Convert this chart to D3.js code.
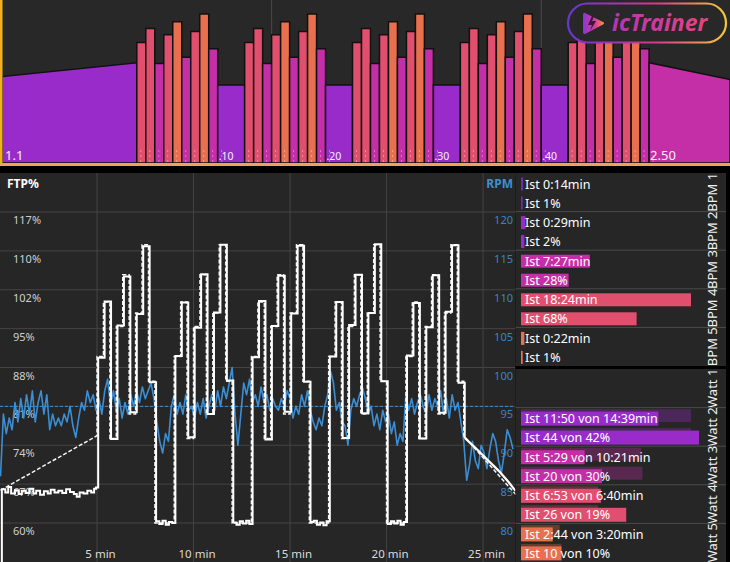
<!DOCTYPE html>
<html><head><meta charset="utf-8">
<script src="https://cdn.jsdelivr.net/npm/d3@7"></script>
<style>
html,body{margin:0;padding:0;background:#000;}
svg{display:block;}
text{font-family:"Noto Sans",sans-serif;}
</style></head><body>
<svg id="c" width="730" height="562"></svg>
<script>
// ---------------- DATA ----------------
// workout structure (minutes, % FTP)
const warmupSeg = {t0: 0, t1: 5, p0: 66, p1: 76, zone: 2};
const cooldownSeg = {t0: 24, t1: 27, p0: 76, p1: 64, zone: 3};
const blockStarts = [5, 9, 13, 17, 21];
const intervalLen = 1 / 3;
const intervalTargets = [90.5, 100.5, 75.5, 96, 105.5, 80, 98.5, 111, 86];
const intervalZones = [4, 4, 3, 4, 5, 3, 4, 5, 3];
const recoveryStarts = [8, 12, 16, 20];
const recoveryLen = 1;
const recoveryTarget = 60;
const profileLabels = ["1.1", ".10", ".20", ".30", ".40", "2.50"];
const profileLabelTimes = [0, 8, 12, 16, 20, 24];

// actual power (% FTP)
const warmupActual = [[0,50],[0.07,66.2],[0.25,65.6],[0.4,66.6],[0.55,65.4],[0.75,66.0],[0.95,65.3],[1.1,65.9],[1.3,65.5],[1.5,66.3],[1.7,65.4],[1.85,65.9],[2.05,65.2],[2.25,65.8],[2.45,65.4],[2.6,66.1],[2.8,65.6],[3.0,65.9],[3.2,65.5],[3.4,66.2],[3.6,65.7],[3.8,65.3],[3.95,64.8],[4.1,65.6],[4.3,65.4],[4.5,65.9],[4.7,65.6],[4.85,66.3],[4.95,66.5]];
const blockActual = [
  [90.3, 100.6, 75.4, 96.2, 105.2, 80.3, 98.3, 110.7, 85.8],
  [90.6, 100.4, 75.7, 95.8, 105.6, 80.0, 98.6, 111.0, 86.1],
  [90.4, 100.7, 75.3, 96.1, 105.3, 80.4, 98.4, 110.8, 85.9],
  [90.5, 100.5, 75.6, 96.3, 105.5, 80.1, 98.5, 111.1, 86.0],
  [90.7, 100.3, 75.5, 95.9, 105.4, 80.2, 98.7, 110.9, 85.7]
];
const recoveryStep = 1 / 6;
const recoveryActual = [
  [60.3, 59.8, 60.4, 59.7, 60.2, 60.0],
  [60.1, 59.7, 60.3, 59.9, 60.4, 59.8],
  [60.2, 60.4, 59.7, 60.1, 59.6, 60.3],
  [59.8, 60.3, 59.9, 60.4, 59.7, 60.2]
];
const actualLag = 0.06;
const cooldownActual = [[24.05,75.6],[24.6,73.8],[25.2,71.7],[25.8,69.6],[26.3,67.6],[26.68,65.9]];

// cadence (RPM), one sample every 0.15 min
const rpmStep = 0.15;
const rpm = [86,94,91.5,93.5,92,95.5,93,96,93.5,96.5, 94,97,93,95.5,97,94,96.5,92,94,92.5,
  93.5,92.5,94,93,95,92.5,91,93.5,95.5,94.5, 97,95.5,96.5,94.5,96,94,97,98.5,95,97,
  94.5,96,93.5,95.5,94,96.5,95,97,95.5,97.5, 96,97,98,96,93,90.5,89,91.5,90.5,95,
  96.5,94,95.5,94,96.5,94.5,95,93.5,95.5,94, 96,93.5,95,96.5,94.5,97,95,97.5,96,98,
  100,94,90,94,98,96.5,98.5,95.5,96.5,95, 97.5,95.5,96.5,94.5,96,95,94.5,96,95,97,
  96,93.5,95,94,96.5,95,97,94.5,93,92, 93.5,92.5,95,96.5,99.5,98,94.5,95.5,93,92.5,
  90,94.5,96,95,96.5,97.5,96,94,95,92.5, 94,92,94.5,93,94,91.5,93,90,91.5,90.5,
  96.5,94.5,96,94,95.5,96.5,95,94,96.5,94.5, 96,95,97,94,96,93.5,96.5,94.5,95.5,93,
  90.5,85.5,87.5,90.5,88,87,90,89,87,89.5, 91.5,90.5,88,86.5,89,92,91,89.5];
const rpmTarget = 95;

// axes
const xTicks = [5, 10, 15, 20, 25];
const rpmTicks = [80, 85, 90, 95, 100, 105, 110, 115, 120];
const ftpTickLabels = ["60%", "67%", "74%", "81%", "88%", "95%", "102%", "110%", "117%"];

// zone summary
const bpmZones = ["BPM 1", "BPM 2", "BPM 3", "BPM 4", "BPM 5"];
const bpmTimes = ["0:14", "0:29", "7:27", "18:24", "0:22"];
const bpmPct = [1, 2, 28, 68, 1];
const wattZones = ["Watt 1", "Watt 2", "Watt 3", "Watt 4", "Watt 5"];
const wattActualTime = [null, "11:50", "5:29", "6:53", "2:44"];
const wattTargetTime = [null, "14:39", "10:21", "6:40", "3:20"];
const wattActualPct = [null, 44, 20, 26, 10];
const wattTargetPct = [null, 42, 30, 19, 10];

// ---------------- DRAW ----------------
const zoneColor = {1: "#6a2fa6", 2: "#9a2bcb", 3: "#c42fa8", 4: "#e14f6f", 5: "#e9704e"};
const svg = d3.select("#c");
const W = 730, H = 562;
svg.append("rect").attr("width", W).attr("height", H).attr("fill", "#000");

// ---- top workout profile ----
const topG = svg.append("g");
topG.append("rect").attr("x", 0).attr("y", 0).attr("width", W).attr("height", 163).attr("fill", "#282828");
const xTop = d3.scaleLinear().domain([0, 27]).range([2, 730]);
const yTop = d3.scaleLinear().domain([0, 100]).range([168.5, 29.3]);
const base = 163;

const segments = [warmupSeg];
blockStarts.forEach((b, bi) => {
  intervalTargets.forEach((p, k) => segments.push({t0: b + k * intervalLen, t1: b + (k + 1) * intervalLen, p0: p, p1: p, zone: intervalZones[k]}));
  if (bi < recoveryStarts.length) segments.push({t0: recoveryStarts[bi], t1: recoveryStarts[bi] + recoveryLen, p0: recoveryTarget, p1: recoveryTarget, zone: 2});
});
segments.push(cooldownSeg);

[10, 20].forEach(t => topG.append("line").attr("x1", xTop(t)).attr("x2", xTop(t)).attr("y1", 0).attr("y2", base)
  .attr("stroke", "#4a4a4a").attr("stroke-width", 1));

topG.selectAll("path.seg").data(segments).join("path").attr("class", "seg")
  .attr("d", d => `M${xTop(d.t0)},${base}L${xTop(d.t0)},${yTop(d.p0)}L${xTop(d.t1)},${yTop(d.p1)}L${xTop(d.t1)},${base}Z`)
  .attr("fill", d => zoneColor[d.zone]).attr("stroke", "#111").attr("stroke-width", 1.5).attr("stroke-linejoin", "miter");

topG.selectAll("line.tk").data(segments.slice(1)).join("line").attr("class", "tk")
  .attr("x1", d => xTop(d.t0) + 4).attr("x2", d => xTop(d.t0) + 4).attr("y1", 150).attr("y2", 162)
  .attr("stroke", "rgba(255,255,255,0.35)").attr("stroke-width", 1).attr("stroke-dasharray", "2,3");

topG.selectAll("text.pl").data(profileLabels).join("text").attr("class", "pl")
  .attr("x", (d, i) => i === 0 ? 5 : xTop(profileLabelTimes[i]) + 1)
  .attr("y", 160).attr("fill", "#f2f2f2")
  .attr("font-size", (d, i) => (i === 0 || i === profileLabels.length - 1) ? 13 : 10.5)
  .text(d => d);

topG.append("rect").attr("x", 0).attr("y", 0).attr("width", 2.5).attr("height", 163).attr("fill", "#f2b21c");
topG.append("rect").attr("x", 0).attr("y", 163).attr("width", W).attr("height", 3).attr("fill", "#f3a15a");

// logo
const defs = svg.append("defs");
const gb = defs.append("linearGradient").attr("id", "gb").attr("x1", "0").attr("x2", "1");
gb.append("stop").attr("offset", "0").attr("stop-color", "#6b34d2");
gb.append("stop").attr("offset", "0.55").attr("stop-color", "#d6378e");
gb.append("stop").attr("offset", "1").attr("stop-color", "#f3c83a");
const gt = defs.append("linearGradient").attr("id", "gt").attr("x1", "0").attr("x2", "1");
gt.append("stop").attr("offset", "0").attr("stop-color", "#b534b8");
gt.append("stop").attr("offset", "1").attr("stop-color", "#e6457c");
const gi = defs.append("linearGradient").attr("id", "gi").attr("x1", "0").attr("x2", "1");
gi.append("stop").attr("offset", "0").attr("stop-color", "#8a36d6");
gi.append("stop").attr("offset", "0.6").attr("stop-color", "#d83c96");
gi.append("stop").attr("offset", "1").attr("stop-color", "#f49a3a");
const logo = svg.append("g");
logo.append("rect").attr("x", 568).attr("y", 3.5).attr("width", 158).attr("height", 39).attr("rx", 19.5)
  .attr("fill", "#282828").attr("stroke", "url(#gb)").attr("stroke-width", 2.2);
logo.append("path").attr("d", "M585,13 Q583,12 583,15 L583,32 Q583,35 586,33.5 L603,24.5 Q605,23 603,22 Z").attr("fill", "url(#gi)");
logo.append("path").attr("d", "M592,16 L588,25 L592,25 L590,31 L596,21 L592,21 L594,16 Z").attr("fill", "#3a1a30");
logo.append("text").attr("x", 612).attr("y", 30.5).attr("font-family", "Lato, 'Noto Sans', sans-serif")
  .attr("font-weight", 700).attr("font-style", "italic").attr("font-size", 23).attr("fill", "url(#gt)").text("icTrainer");

// ---- main chart ----
const mainG = svg.append("g");
const PL = 0, PR = 515.5, PT = 173, PB = 562;
mainG.append("rect").attr("x", PL).attr("y", PT).attr("width", PR - PL).attr("height", PB - PT).attr("fill", "#262626");
const xMain = d3.scaleLinear().domain([0, 26.68]).range([0.5, 515.5]);
const yRpm = d3.scaleLinear().domain([80, 120]).range([523, 212]);
const yFtp = d3.scaleLinear().domain([60, 117]).range([523, 212]);

defs.append("clipPath").attr("id", "clipMain").append("rect").attr("x", PL).attr("y", PT).attr("width", PR - PL).attr("height", PB - PT);

// grid
mainG.append("g").selectAll("line").data(rpmTicks).join("line")
  .attr("x1", PL).attr("x2", PR).attr("y1", d => yRpm(d)).attr("y2", d => yRpm(d))
  .attr("stroke", "#444").attr("stroke-width", 1);
mainG.append("g").selectAll("line").data(xTicks).join("line")
  .attr("x1", d => xMain(d)).attr("x2", d => xMain(d)).attr("y1", PT).attr("y2", PB)
  .attr("stroke", "#444").attr("stroke-width", 1);

// axis labels
const ftpAxis = d3.axisRight(yRpm).tickValues(rpmTicks).tickSize(0).tickFormat((d, i) => ftpTickLabels[i]);
const ftpAx = mainG.append("g").attr("transform", "translate(12,0)").call(ftpAxis);
ftpAx.select(".domain").remove();
ftpAx.selectAll("text").attr("dy", "1.05em").attr("fill", "#cfcfcf").attr("font-size", 11).attr("x", 1);

const rpmAxis = d3.axisLeft(yRpm).tickValues(rpmTicks).tickSize(0);
const rpmAx = mainG.append("g").attr("transform", "translate(514,0)").call(rpmAxis);
rpmAx.select(".domain").remove();
rpmAx.selectAll("text").attr("dy", "1.05em").attr("fill", "#3b84c4").attr("font-size", 11).attr("x", -1);

const xAxis = d3.axisBottom(xMain).tickValues(xTicks).tickSize(0).tickFormat(d => d + " min");
const xAx = mainG.append("g").attr("transform", "translate(3,547)").call(xAxis);
xAx.select(".domain").remove();
xAx.selectAll("text").attr("fill", "#dcdcdc").attr("font-size", 11.5);

mainG.append("text").attr("x", 7).attr("y", 188).attr("font-weight", 700).attr("font-size", 12).attr("fill", "#fff").text("FTP%");
mainG.append("text").attr("x", 513).attr("y", 188).attr("text-anchor", "end").attr("font-weight", 700).attr("font-size", 12).attr("fill", "#3d8fd2").text("RPM");

const plot = mainG.append("g").attr("clip-path", "url(#clipMain)");
// rpm target
plot.append("line").attr("x1", PL).attr("x2", PR).attr("y1", yRpm(rpmTarget)).attr("y2", yRpm(rpmTarget))
  .attr("stroke", "#3a8fd5").attr("stroke-width", 1).attr("stroke-dasharray", "3,2");
// rpm line
plot.append("path").datum(rpm.map((v, i) => [i * rpmStep, v]))
  .attr("d", d3.line().x(d => xMain(d[0])).y(d => yRpm(d[1])))
  .attr("fill", "none").attr("stroke", "#3b8ed4").attr("stroke-width", 1.6).attr("stroke-linejoin", "round");

// target power (dashed)
const targetPts = [];
segments.forEach(s => { targetPts.push([s.t0, s.p0]); targetPts.push([s.t1, s.p1]); });
plot.append("path").datum(targetPts)
  .attr("d", d3.line().x(d => xMain(d[0])).y(d => yFtp(d[1])))
  .attr("fill", "none").attr("stroke", "#f4f4f4").attr("stroke-width", 1.5).attr("stroke-dasharray", "4,2");

// actual power (solid)
const powerPts = warmupActual.slice();
blockStarts.forEach((b, bi) => {
  blockActual[bi].forEach((p, k) => powerPts.push([b + k * intervalLen + actualLag, p]));
  if (bi < recoveryActual.length) recoveryActual[bi].forEach((p, k) => powerPts.push([recoveryStarts[bi] + k * recoveryStep + actualLag, p]));
});
powerPts.push(cooldownActual[0]);
plot.append("path").datum(powerPts)
  .attr("d", d3.line().x(d => xMain(d[0])).y(d => yFtp(d[1])).curve(d3.curveStepAfter))
  .attr("fill", "none").attr("stroke", "#fff").attr("stroke-width", 2);
plot.append("path").datum(cooldownActual)
  .attr("d", d3.line().x(d => xMain(d[0])).y(d => yFtp(d[1])))
  .attr("fill", "none").attr("stroke", "#fff").attr("stroke-width", 2.2);

// ---- right panel ----
const RX = 515.5;
const rightG = svg.append("g");
rightG.append("rect").attr("x", RX).attr("y", 173).attr("width", W - RX).attr("height", H - 173).attr("fill", "#262626");
rightG.append("rect").attr("x", RX).attr("y", 366).attr("width", W - RX).attr("height", 3).attr("fill", "#000");
rightG.append("rect").attr("x", 726).attr("y", 173).attr("width", 4).attr("height", H - 173).attr("fill", "#000");

const secs = s => { const [m, ss] = s.split(":").map(Number); return m * 60 + ss; };
const barX = 521, textX = 525;

// upper: BPM
const yB = d3.scaleBand().domain(bpmZones).range([173, 366]);
const bpmTimeW = d3.scaleLinear().domain([0, d3.max(bpmTimes, secs)]).range([0, 170]);
const bpmPctW = d3.scaleLinear().domain([0, 100]).range([0, 170]);
bpmZones.forEach((z, i) => {
  const top = yB(z), col = zoneColor[i + 1];
  if (i > 0) rightG.append("line").attr("x1", RX).attr("x2", 726).attr("y1", top).attr("y2", top).attr("stroke", "#4b4b4b");
  const r1 = top + 11, r2 = top + 30;
  rightG.append("rect").attr("x", barX).attr("y", r1 - 6.5).attr("height", 13).attr("width", Math.max(1.5, bpmTimeW(secs(bpmTimes[i])))).attr("fill", col);
  rightG.append("rect").attr("x", barX).attr("y", r2 - 6.5).attr("height", 13).attr("width", Math.max(1.5, bpmPctW(bpmPct[i]))).attr("fill", col);
  rightG.append("text").attr("x", textX).attr("y", r1).attr("dy", "0.36em").attr("font-size", 12.5).attr("fill", "#fff").text(`Ist ${bpmTimes[i]}min`);
  rightG.append("text").attr("x", textX).attr("y", r2).attr("dy", "0.36em").attr("font-size", 12.5).attr("fill", "#fff").text(`Ist ${bpmPct[i]}%`);
  rightG.append("text").attr("transform", `translate(717,${top + yB.bandwidth() / 2}) rotate(-90)`).attr("text-anchor", "middle")
    .attr("font-size", 13).attr("fill", "#f0f0f0").text(z);
});

// lower: Watt
const yW = d3.scaleBand().domain(wattZones).range([369, 562]);
const wattTimeW = d3.scaleLinear().domain([0, d3.max(wattTargetTime.filter(d => d), secs)]).range([0, 170]);
const wattPctW = d3.scaleLinear().domain([0, d3.max(wattTargetPct.filter(d => d != null))]).range([0, 170]);
wattZones.forEach((z, i) => {
  const top = yW(z), col = zoneColor[i + 1];
  if (i > 0) rightG.append("line").attr("x1", RX).attr("x2", 726).attr("y1", top).attr("y2", top).attr("stroke", "#4b4b4b");
  rightG.append("text").attr("transform", `translate(717,${top + yW.bandwidth() / 2}) rotate(-90)`).attr("text-anchor", "middle")
    .attr("font-size", 13).attr("fill", "#f0f0f0").text(z);
  if (wattActualTime[i] == null) return;
  const r1 = top + 11, r2 = top + 30;
  rightG.append("rect").attr("x", barX).attr("y", r1 - 9.5).attr("height", 13).attr("width", wattTimeW(secs(wattTargetTime[i]))).attr("fill", col).attr("opacity", 0.32);
  rightG.append("rect").attr("x", barX).attr("y", r2 - 9.5).attr("height", 13).attr("width", wattPctW(wattTargetPct[i])).attr("fill", col).attr("opacity", 0.32);
  rightG.append("rect").attr("x", barX).attr("y", r1 - 7).attr("height", 14).attr("width", wattTimeW(secs(wattActualTime[i]))).attr("fill", col);
  rightG.append("rect").attr("x", barX).attr("y", r2 - 7).attr("height", 14).attr("width", wattPctW(wattActualPct[i])).attr("fill", col);
  rightG.append("text").attr("x", textX).attr("y", r1).attr("dy", "0.36em").attr("font-size", 12.5).attr("fill", "#fff").text(`Ist ${wattActualTime[i]} von ${wattTargetTime[i]}min`);
  rightG.append("text").attr("x", textX).attr("y", r2).attr("dy", "0.36em").attr("font-size", 12.5).attr("fill", "#fff").text(`Ist ${wattActualPct[i]} von ${wattTargetPct[i]}%`);
});
</script>
</body></html>
